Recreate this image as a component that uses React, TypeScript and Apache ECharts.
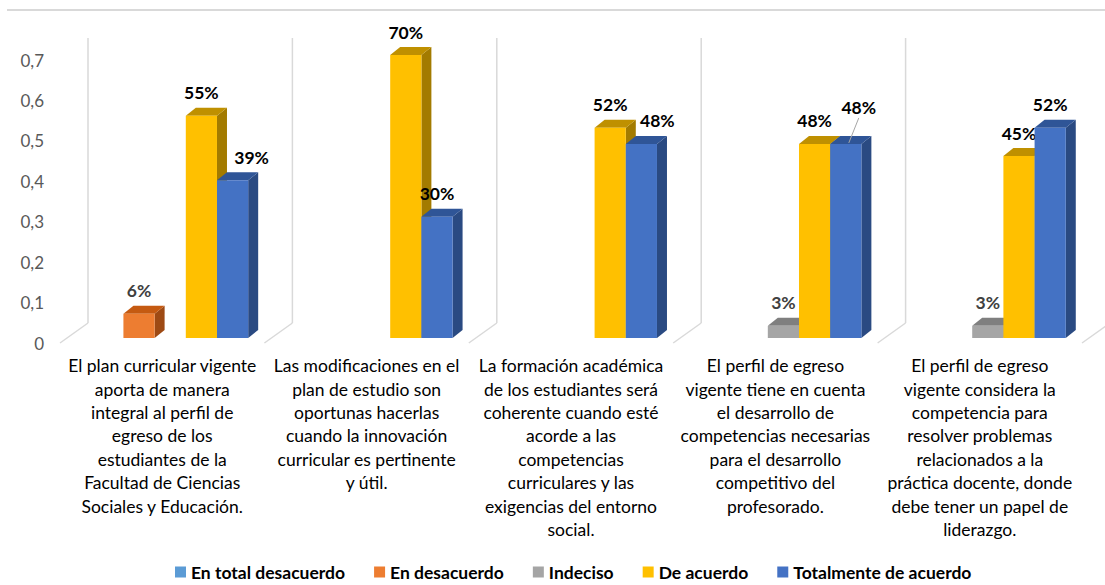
import React, { useEffect, useRef } from "react";
import * as echarts from "echarts";

const categories = [
  "El plan curricular vigente\naporta de manera\nintegral al perfil de\negreso de los\nestudiantes de la\nFacultad de Ciencias\nSociales y Educación.",
  "Las modificaciones en el\nplan de estudio son\noportunas hacerlas\ncuando la innovación\ncurricular es pertinente\ny útil.",
  "La formación académica\nde los estudiantes será\ncoherente cuando esté\nacorde a las\ncompetencias\ncurriculares y las\nexigencias del entorno\nsocial.",
  "El perfil de egreso\nvigente tiene en cuenta\nel desarrollo de\ncompetencias necesarias\npara el desarrollo\ncompetitivo del\nprofesorado.",
  "El perfil de egreso\nvigente considera la\ncompetencia para\nresolver problemas\nrelacionados a la\npráctica docente, donde\ndebe tener un papel de\nliderazgo.",
];

const seriesNames = [
  "En total desacuerdo",
  "En desacuerdo",
  "Indeciso",
  "De acuerdo",
  "Totalmente de acuerdo",
];

const enTotalDesacuerdo = [0, 0, 0, 0, 0];
const enDesacuerdo = [0.06, 0, 0, 0, 0];
const indeciso = [0, 0, 0, 0.03, 0.03];
const deAcuerdo = [0.55, 0.7, 0.52, 0.48, 0.45];
const totalmenteDeAcuerdo = [0.39, 0.3, 0.48, 0.48, 0.52];

const yTicks = [0, 0.1, 0.2, 0.3, 0.4, 0.5, 0.6, 0.7];

const seriesValues = [enTotalDesacuerdo, enDesacuerdo, indeciso, deAcuerdo, totalmenteDeAcuerdo];

const palette = [
  { front: "#5B9BD5", top: "#41719C", side: "#2E5F8C", label: "#404040" },
  { front: "#ED7D31", top: "#C55A11", side: "#9E4A14", label: "#404040" },
  { front: "#A5A5A5", top: "#7F7F7F", side: "#6B6B6B", label: "#404040" },
  { front: "#FFC000", top: "#BF9000", side: "#A37B00", label: "#000000" },
  { front: "#4472C4", top: "#2F5597", side: "#2A4A82", label: "#000000" },
];

// manual label nudges (series-category) mimicking the reference
const labelNudge: Record<string, [number, number, boolean]> = {
  "4-0": [19, 0, false],
  "4-2": [16, 0, false],
  "4-3": [13, -13, true],
};

const DX = 10;
const DY = 8;
const GAP = 0.763;

export default function App() {
  const ref = useRef<HTMLDivElement>(null);
  useEffect(() => {
    if (!ref.current) return;
    const chart = echarts.init(ref.current, undefined, { renderer: "svg" });

    const makeRender = (si: number) => (params: any, api: any) => {
      const ci = api.value(0);
      const v = api.value(1);
      if (!v) return null;
      const band = api.size([1, 0])[0];
      const bw = (band * GAP) / 5;
      const base = api.coord([ci, 0]);
      const top = api.coord([ci, v]);
      const x0 = base[0] - 2.5 * bw + si * bw;
      const x1 = x0 + bw;
      const yb = base[1];
      const yt = top[1];
      const c = palette[si];
      const nudge = labelNudge[si + "-" + ci] || [0, 0, false];
      const lx = (x0 + x1) / 2 + nudge[0];
      const ly = yt - 23 + nudge[1];
      const children: any[] = [
        {
          type: "polygon",
          shape: { points: [[x1, yb], [x1 + DX, yb - DY], [x1 + DX, yt - DY], [x1, yt]] },
          style: { fill: c.side },
        },
        {
          type: "polygon",
          shape: { points: [[x0, yt], [x0 + DX, yt - DY], [x1 + DX, yt - DY], [x1, yt]] },
          style: { fill: c.top },
        },
        {
          type: "rect",
          shape: { x: x0, y: yt, width: bw, height: yb - yt },
          style: { fill: c.front },
        },
        {
          type: "text",
          style: {
            text: Math.round(v * 100) + "%",
            x: lx,
            y: ly,
            align: "center",
            verticalAlign: "middle",
            fontSize: 17.5,
            fontWeight: "bold",
            fontFamily: "Lato",
            fill: c.label,
          },
        },
      ];
      if (nudge[2]) {
        children.push({
          type: "line",
          shape: { x1: (x0 + x1) / 2 + 3, y1: yt - 1, x2: lx, y2: ly + 10 },
          style: { stroke: "#A6A6A6", lineWidth: 1 },
        });
      }
      return { type: "group", children };
    };

    const wallRender = (params: any, api: any) => {
      const ci = api.value(0);
      const band = api.size([1, 0])[0];
      const base = api.coord([ci, 0]);
      const topY = api.coord([ci, 0.7])[1];
      const yb = base[1];
      const xs = [base[0] - band / 2];
      if (ci === categories.length - 1) xs.push(base[0] + band / 2);
      const children: any[] = [];
      xs.forEach((xl) => {
        children.push({
          type: "line",
          shape: { x1: xl + 20, y1: topY - 17, x2: xl + 20, y2: yb - 15 },
          style: { stroke: "#D9D9D9", lineWidth: 1.5 },
        });
        children.push({
          type: "line",
          shape: { x1: xl - 8, y1: yb + 5, x2: xl + 20, y2: yb - 15 },
          style: { stroke: "#D9D9D9", lineWidth: 1.5 },
        });
      });
      return { type: "group", children };
    };

    const series: any[] = [
      {
        type: "custom",
        name: "walls",
        silent: true,
        z: 1,
        renderItem: wallRender,
        data: categories.map((_, i) => [i, 0]),
        encode: { x: 0, y: 1 },
      },
      ...seriesNames.map((name, si) => ({
        type: "custom",
        name,
        z: 2 + si,
        itemStyle: { color: palette[si].front },
        renderItem: makeRender(si),
        data: seriesValues[si].map((v, i) => [i, v]),
        encode: { x: 0, y: 1 },
      })),
    ];

    chart.setOption({
      animation: false,
      backgroundColor: "#ffffff",
      textStyle: { fontFamily: "Lato" },
      graphic: [
        {
          type: "line",
          shape: { x1: 7, y1: 10, x2: 1105, y2: 10 },
          style: { stroke: "#D9D9D9", lineWidth: 2 },
        },
      ],
      grid: { left: 68, right: 15, top: 55, bottom: 247, containLabel: false },
      legend: {
        data: seriesNames.map((n) => ({ name: n, icon: "rect" })),
        top: 563,
        left: 175,
        padding: 0,
        itemWidth: 11,
        itemHeight: 11,
        itemGap: 29,
        textStyle: { fontSize: 17.5, fontWeight: "bold", color: "#000", fontFamily: "Lato" },
      },
      xAxis: {
        type: "category",
        data: categories,
        axisLine: { show: false },
        axisTick: { show: false },
        axisLabel: {
          interval: 0,
          margin: 16,
          fontSize: 17.5,
          lineHeight: 23.4,
          color: "#000",
          fontFamily: "Lato",
          align: "center",
          padding: [0, 16, 0, 0],
        },
      },
      yAxis: {
        type: "value",
        min: 0,
        max: 0.7,
        interval: 0.1,
        axisLine: { show: false },
        axisTick: { show: false },
        splitLine: { show: false },
        axisLabel: {
          margin: 24,
          fontSize: 17,
          color: "#595959",
          fontFamily: "Lato",
          verticalAlign: "top",
          lineHeight: 10,
          formatter: (v: number) => {
            const t = yTicks.find((x) => Math.abs(x - v) < 1e-6);
            const val = t === undefined ? v : t;
            return val === 0 ? "0" : val.toFixed(1).replace(".", ",");
          },
        },
      },
      series,
    });
    return () => chart.dispose();
  }, []);
  return (
    <div
      ref={ref}
      style={{ position: "fixed", left: 0, top: 0, width: 1105, height: 585, background: "#fff" }}
    />
  );
}
